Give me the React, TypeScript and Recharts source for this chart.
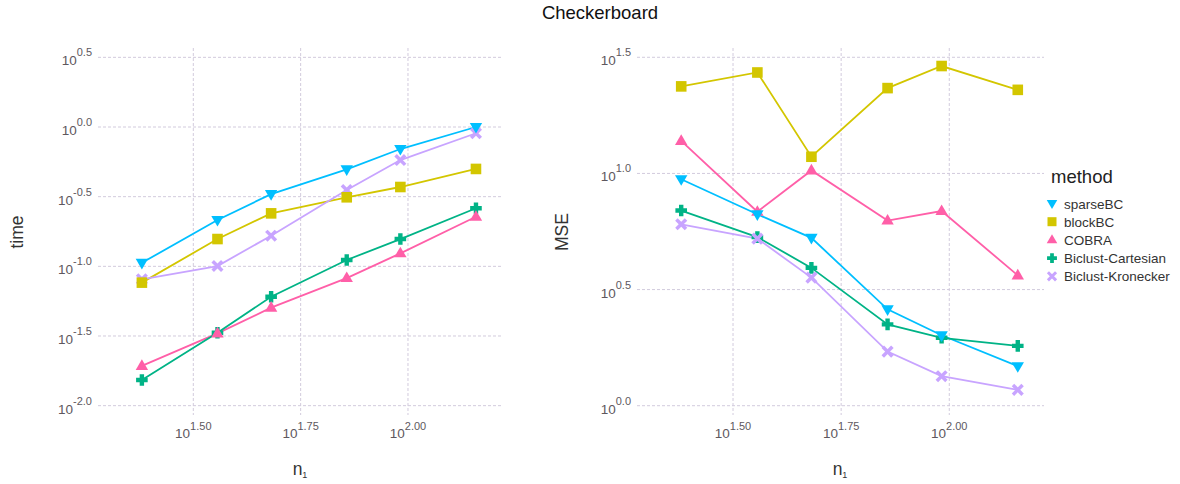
import React from 'react'
import { LineChart, Line, XAxis, YAxis, CartesianGrid } from 'recharts'

// n1 sample sizes (x axis, log scale)
const n1 = [24, 36, 48, 72, 96, 144]

const methods = ['sparseBC', 'blockBC', 'COBRA', 'Biclust-Cartesian', 'Biclust-Kronecker']

// time (left panel)
const timeSparseBC = [0.106, 0.215, 0.33, 0.497, 0.695, 1.0]
const timeBlockBC = [0.0764, 0.157, 0.24, 0.313, 0.371, 0.5]
const timeCOBRA = [0.0193, 0.033, 0.0505, 0.0824, 0.124, 0.227]
const timeCartesian = [0.0153, 0.0334, 0.0605, 0.111, 0.157, 0.261]
const timeKronecker = [0.0807, 0.1005, 0.166, 0.353, 0.579, 0.902]

// MSE (right panel)
const mseSparseBC = [9.44, 6.67, 5.28, 2.6, 2.01, 1.48]
const mseBlockBC = [23.7, 27.2, 11.8, 23.3, 29.0, 22.9]
const mseCOBRA = [13.8, 6.84, 10.3, 6.27, 6.89, 3.64]
const mseCartesian = [6.92, 5.32, 3.92, 2.24, 1.96, 1.81]
const mseKronecker = [6.04, 5.24, 3.56, 1.71, 1.34, 1.17]

// tick exponents (labels are 10^e)
const xTickExp = ['1.50', '1.75', '2.00']
const timeTickExp = ['-2.0', '-1.5', '-1.0', '-0.5', '0.0', '0.5']
const mseTickExp = ['0.0', '0.5', '1.0', '1.5']

const colors: Record<string, string> = {
    sparseBC: '#00BFFF',
    blockBC: '#D3C600',
    COBRA: '#FF5FA8',
    'Biclust-Cartesian': '#00B386',
    'Biclust-Kronecker': '#C8A4FF',
}
const shapes: Record<string, string> = {
    sparseBC: 'triDown',
    blockBC: 'square',
    COBRA: 'triUp',
    'Biclust-Cartesian': 'plus',
    'Biclust-Kronecker': 'cross',
}
// points drawn in this order (last on top)
const drawOrder = ['Biclust-Cartesian', 'Biclust-Kronecker', 'blockBC', 'COBRA', 'sparseBC']

const FONT = '"Liberation Sans", Arial, Helvetica, sans-serif'
const GRID = '#d2cbdd'
const TICK = '#5e585e'

function buildRows(vals: number[][]) {
    return n1.map((n, i) => {
        const row: any = { n1: n }
        methods.forEach((m, j) => { row[m] = vals[j][i] })
        return row
    })
}

const timeRows = buildRows([timeSparseBC, timeBlockBC, timeCOBRA, timeCartesian, timeKronecker])
const mseRows = buildRows([mseSparseBC, mseBlockBC, mseCOBRA, mseCartesian, mseKronecker])

function Marker({ cx, cy, shape, color, k = 1 }: any) {
    if (cx == null || cy == null) return null
    switch (shape) {
        case 'triDown':
            return <polygon points={`${cx - 6.2 * k},${cy - 4 * k} ${cx + 6.2 * k},${cy - 4 * k} ${cx},${cy + 6.6 * k}`} fill={color} />
        case 'triUp':
            return <polygon points={`${cx - 6.2 * k},${cy + 4 * k} ${cx + 6.2 * k},${cy + 4 * k} ${cx},${cy - 6.6 * k}`} fill={color} />
        case 'square':
            return <rect x={cx - 5.3 * k} y={cy - 5.3 * k} width={10.6 * k} height={10.6 * k} fill={color} />
        case 'plus': {
            const a = 5.8 * k, t = 2.2 * k
            return (
                <path
                    d={`M${cx - t},${cy - a}H${cx + t}V${cy - t}H${cx + a}V${cy + t}H${cx + t}V${cy + a}H${cx - t}V${cy + t}H${cx - a}V${cy - t}H${cx - t}Z`}
                    fill={color}
                />
            )
        }
        case 'cross': {
            const a = 4.8 * k
            return (
                <g stroke={color} strokeWidth={3.5 * k}>
                    <line x1={cx - a} y1={cy - a} x2={cx + a} y2={cy + a} />
                    <line x1={cx - a} y1={cy + a} x2={cx + a} y2={cy - a} />
                </g>
            )
        }
    }
    return null
}

function PowTick({ x, y, payload, labels, ticks, axis }: any) {
    const idx = ticks.findIndex((t: number) => Math.abs(t - payload.value) < 1e-9 * Math.max(1, t))
    const exp = labels[idx] ?? ''
    if (axis === 'x') {
        return (
            <text x={x} y={y + 23} textAnchor="middle" fontFamily={FONT} fill={TICK} fontSize={13.5}>
                <tspan>10</tspan>
                <tspan dy={-8} fontSize={11}>{exp}</tspan>
            </text>
        )
    }
    return (
        <text x={x} y={y + 8} textAnchor="end" fontFamily={FONT} fill={TICK} fontSize={13.5}>
            <tspan>10</tspan>
            <tspan dy={-9} fontSize={11}>{exp}</tspan>
        </text>
    )
}

const xTicks = xTickExp.map((e) => Math.pow(10, parseFloat(e)))
const timeTicks = timeTickExp.map((e) => Math.pow(10, parseFloat(e)))
const mseTicks = mseTickExp.map((e) => Math.pow(10, parseFloat(e)))

const xDomain = [Math.pow(10, 1.278), Math.pow(10, 2.219)]
const timeDomain = [Math.pow(10, -2.067), Math.pow(10, 0.567)]
const mseDomain = [Math.pow(10, -0.04), Math.pow(10, 1.54)]

function Panel({ rows, yTicks, yLabels, yDomain, width, marginLeft, marginRight }: any) {
    return (
        <LineChart
            width={width}
            height={484}
            data={rows}
            margin={{ top: 48, right: marginRight, bottom: 29, left: marginLeft }}
        >
            <CartesianGrid stroke={GRID} strokeDasharray="3 2" syncWithTicks />
            <XAxis
                dataKey="n1"
                type="number"
                scale="log"
                domain={xDomain}
                allowDataOverflow
                ticks={xTicks}
                height={40}
                axisLine={false}
                tickLine={false}
                tickSize={0}
                tickMargin={0}
                interval={0}
                tick={<PowTick labels={xTickExp} ticks={xTicks} axis="x" />}
            />
            <YAxis
                type="number"
                scale="log"
                domain={yDomain}
                allowDataOverflow
                ticks={yTicks}
                width={60}
                axisLine={false}
                tickLine={false}
                tickSize={0}
                tickMargin={6}
                interval={0}
                tick={<PowTick labels={yLabels} ticks={yTicks} axis="y" />}
            />
            {methods.map((m) => (
                <Line
                    key={'l-' + m}
                    dataKey={m}
                    stroke={colors[m]}
                    strokeWidth={1.8}
                    dot={false}
                    activeDot={false}
                    isAnimationActive={false}
                />
            ))}
            {drawOrder.map((m) => (
                <Line
                    key={'p-' + m}
                    dataKey={m}
                    stroke="none"
                    activeDot={false}
                    isAnimationActive={false}
                    dot={(p: any) => (
                        <Marker key={`${m}-${p.index}`} cx={p.cx} cy={p.cy} shape={shapes[m]} color={colors[m]} />
                    )}
                />
            ))}
        </LineChart>
    )
}

export default function App() {
    return (
        <div style={{ position: 'absolute', left: 0, top: 0, width: 1180, height: 484, background: '#fff', fontFamily: FONT }}>
            <div style={{ position: 'absolute', left: 0, top: 0 }}>
                <Panel rows={timeRows} yTicks={timeTicks} yLabels={timeTickExp} yDomain={timeDomain} width={520} marginLeft={38} marginRight={18} />
            </div>
            <div style={{ position: 'absolute', left: 560, top: 0 }}>
                <Panel rows={mseRows} yTicks={mseTicks} yLabels={mseTickExp} yDomain={mseDomain} width={500} marginLeft={17} marginRight={16} />
            </div>
            <svg width={1180} height={484} style={{ position: 'absolute', left: 0, top: 0, pointerEvents: 'none' }}>
                <text x={600} y={19} textAnchor="middle" fontSize={18.5} fill="#111" fontFamily={FONT}>Checkerboard</text>
                <text transform="translate(23,232) rotate(-90)" textAnchor="middle" fontSize={17.5} fill="#333" fontFamily={FONT}>time</text>
                <text transform="translate(568,232) rotate(-90)" textAnchor="middle" fontSize={17.5} fill="#333" fontFamily={FONT}>MSE</text>
                <text x={300} y={475} textAnchor="middle" fontSize={17.5} fill="#333" fontFamily={FONT}>
                    n<tspan fontSize={9} dy={3}>1</tspan>
                </text>
                <text x={840} y={475} textAnchor="middle" fontSize={17.5} fill="#333" fontFamily={FONT}>
                    n<tspan fontSize={9} dy={3}>1</tspan>
                </text>
                <text x={1051} y={183} fontSize={18.5} fill="#222" fontFamily={FONT}>method</text>
                {methods.map((m, i) => {
                    const cy = 203.5 + i * 18.2
                    return (
                        <g key={m}>
                            <Marker cx={1052} cy={cy} shape={shapes[m]} color={colors[m]} k={0.85} />
                            <text x={1064} y={cy + 5} fontSize={13.5} fill="#333" fontFamily={FONT}>{m}</text>
                        </g>
                    )
                })}
            </svg>
        </div>
    )
}
